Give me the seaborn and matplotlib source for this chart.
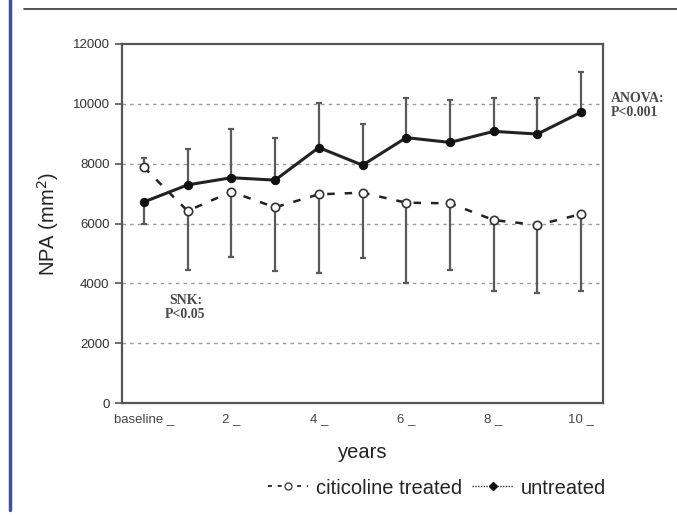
import matplotlib
matplotlib.use("Agg")
import matplotlib.pyplot as plt
import matplotlib.lines as mlines
import seaborn as sns
import numpy as np
import pandas as pd

# ---- data ----
categories = ["baseline", "1", "2", "3", "4", "5", "6", "7", "8", "9", "10"]
tick_labels = ["baseline _", "2 _", "4 _", "6 _", "8 _", "10 _"]
treated_mean = [7880, 6420, 7060, 6540, 6975, 7030, 6695, 6675, 6115, 5950, 6315]
treated_err_up = [310, 0, 0, 0, 0, 0, 0, 0, 0, 0, 0]
treated_err_down = [0, 1975, 2170, 2130, 2620, 2195, 2675, 2230, 2365, 2265, 2565]
untreated_mean = [6720, 7290, 7530, 7450, 8540, 7950, 8870, 8710, 9080, 8990, 9720]
untreated_err_up = [0, 1210, 1620, 1400, 1500, 1390, 1330, 1405, 1120, 1200, 1340]
untreated_err_down = [740, 0, 0, 0, 0, 0, 0, 0, 0, 0, 0]
y_ticks = [0, 2000, 4000, 6000, 8000, 10000, 12000]

sns.set_theme(style="white")
plt.rcParams["font.family"] = ["Liberation Sans", "DejaVu Sans"]

pos = np.arange(len(categories))
df_t = pd.DataFrame({"x": pos, "npa": treated_mean})
df_u = pd.DataFrame({"x": pos, "npa": untreated_mean})

fig = plt.figure(figsize=(6.77, 5.16), dpi=100)
fig.patch.set_facecolor("white")
ax = fig.add_axes([122 / 677, 1 - 403 / 516, (603 - 122) / 677, (403 - 44) / 516])
ax.set_facecolor("white")

# grid lines
for v in y_ticks[1:-1]:
    ax.axhline(v, color="#9a9a9a", lw=1.0, ls=(0, (2.5, 3)), zorder=0)

# error bars
ax.errorbar(pos, treated_mean, yerr=[treated_err_down, treated_err_up], fmt="none",
            ecolor="#5a5a5a", elinewidth=1.6, capsize=2.5, capthick=1.6, zorder=2)
ax.errorbar(pos, untreated_mean, yerr=[untreated_err_down, untreated_err_up], fmt="none",
            ecolor="#5a5a5a", elinewidth=1.6, capsize=2.5, capthick=1.6, zorder=2)

sns.lineplot(data=df_t, x="x", y="npa", ax=ax, color="#222222", lw=1.8,
             linestyle=(0, (3, 4)), marker="o", markersize=6,
             markerfacecolor="white", markeredgecolor="#333333", markeredgewidth=1.2,
             label="citicoline treated", zorder=4, legend=False)
sns.lineplot(data=df_u, x="x", y="npa", ax=ax, color="#222222", lw=2.2,
             marker="o", markersize=6, markerfacecolor="#111111",
             markeredgecolor="#111111", label="untreated", zorder=5, legend=False)

ax.set_xlim(-0.5, 10.5)
ax.set_ylim(0, 12000)
ax.set_yticks(y_ticks)
ax.set_yticklabels([str(v) for v in y_ticks], fontsize=9.5, color="#333333")
ax.set_xticks(pos[::2])
ax.set_xticklabels(tick_labels, fontsize=9.5, color="#444444")
ax.set_xticks(np.arange(-0.5, 11, 1), minor=True)
ax.tick_params(axis="x", which="major", length=0, pad=7)
ax.tick_params(axis="x", which="minor", length=4, width=1.2, color="#555555", direction="out")
ax.tick_params(axis="y", length=5, width=1.2, color="#555555", direction="out", left=True, pad=4)
for s in ax.spines.values():
    s.set_color("#555555")
    s.set_linewidth(1.6)

ax.set_xlabel("years", fontsize=14.5, color="#222222", labelpad=13)
ax.set_ylabel("NPA (mm$^2$)", fontsize=14.5, color="#222222", labelpad=8)

ax.text(1.017, 0.83, "ANOVA:\nP<0.001", transform=ax.transAxes, ha="left", va="center",
        fontsize=10, fontweight="bold", family=["Liberation Serif", "DejaVu Serif"],
        color="#4a4a4a", linespacing=1.1)
ax.text(0.95, 3200, "SNK:\nP<0.05", ha="center", va="center",
        fontsize=10, fontweight="bold", family=["Liberation Serif", "DejaVu Serif"],
        color="#4a4a4a", linespacing=1.1)

h1 = mlines.Line2D([], [], color="#333333", lw=1.4, ls=(0, (2, 3)), marker="o",
                   markersize=5, markerfacecolor="white", markeredgecolor="#444444")
h2 = mlines.Line2D([], [], color="#333333", lw=1.0, ls=(0, (1, 1)), marker="D",
                   markersize=4, markerfacecolor="#111111", markeredgecolor="#111111")
fig.legend([h1, h2], ["citicoline treated", "untreated"], loc="center",
           bbox_to_anchor=(437 / 677, 1 - 488 / 516), ncol=2, frameon=False,
           fontsize=14.5, handlelength=2.0, handletextpad=0.4, columnspacing=0.5)

# decorative page elements
fig.add_artist(mlines.Line2D([10 / 677, 10 / 677], [1 - 510 / 516, 1], color="#3b4f9e",
                             lw=2.5, transform=fig.transFigure))
fig.add_artist(mlines.Line2D([24 / 677, 1], [1 - 9 / 516, 1 - 9 / 516], color="#333333",
                             lw=1.2, transform=fig.transFigure))

fig.savefig("out.png", dpi=100)
